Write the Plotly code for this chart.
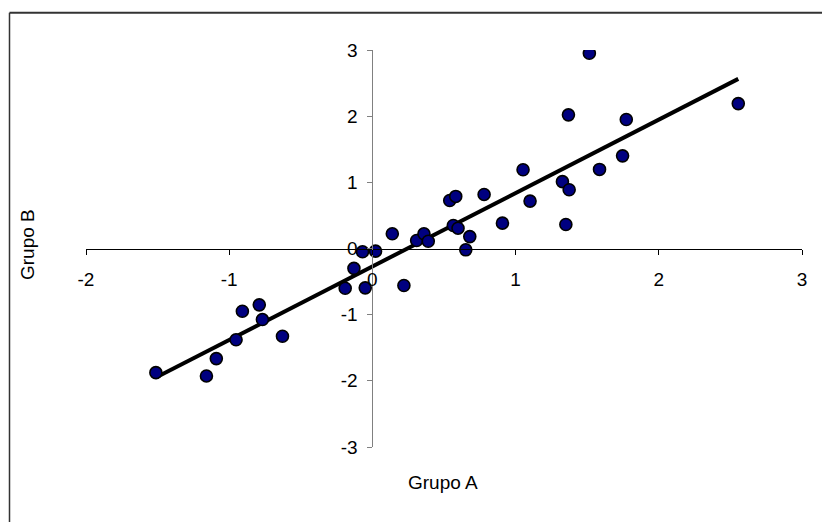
import numpy as np
import plotly.graph_objects as go

# Data
grupo_a = [-1.512, -1.159, -1.09, -0.952, -0.908, -0.79, -0.768, -0.628,
           -0.19, -0.129, -0.05, -0.069, 0.022, 0.139, 0.22, 0.309, 0.36, 0.39,
           0.54, 0.582, 0.565, 0.598, 0.652, 0.68, 0.78, 0.908, 1.052, 1.101,
           1.327, 1.351, 1.374, 1.369, 1.515, 1.586, 1.747, 1.773, 2.555]
grupo_b = [-1.876, -1.926, -1.664, -1.38, -0.948, -0.852, -1.074, -1.327,
           -0.60, -0.30, -0.595, -0.05, -0.04, 0.222, -0.56, 0.121, 0.222, 0.11,
           0.726, 0.787, 0.348, 0.307, -0.02, 0.18, 0.817, 0.383, 1.19, 0.716,
           1.01, 0.363, 0.888, 2.02, 2.95, 1.195, 1.40, 1.95, 2.19]
x_ticks = [-2, -1, 0, 1, 2, 3]
y_ticks = [-3, -2, -1, 0, 1, 2, 3]

OFF = 0  # body margin removed below, figure starts at the window corner
W, H = 822, 522
ML, MR, MT, MB = 86, 20, 50, 75
PW, PH = W - ML - MR, H - MT - MB

def px_x(px):
    return (px - OFF - ML) / PW

def px_y(py):
    return (H - MB - (py - OFF)) / PH

xa = np.array(grupo_a)
ya = np.array(grupo_b)
slope, intercept = np.polyfit(xa, ya, 1)
xl = np.array([xa.min(), xa.max()])
yl = slope * xl + intercept

fig = go.Figure()
fig.add_trace(go.Scatter(x=xl, y=yl, mode="lines",
                         line=dict(color="black", width=4),
                         hoverinfo="skip", showlegend=False))
fig.add_trace(go.Scatter(x=grupo_a, y=grupo_b, mode="markers",
                         marker=dict(size=12, color="#000080",
                                     line=dict(color="black", width=1.6)),
                         showlegend=False))

tick_font = dict(family="Liberation Sans, Arial, sans-serif", size=19, color="black")
title_font = dict(family="Liberation Sans, Arial, sans-serif", size=19, color="black")

fig.update_layout(
    width=W, height=H, autosize=False,
    margin=dict(l=ML, r=MR, t=MT, b=MB, pad=0),
    paper_bgcolor="white", plot_bgcolor="white",
    font=tick_font,
    xaxis=dict(range=[-2, 3], tickvals=x_ticks, ticktext=[str(v) for v in x_ticks],
               showgrid=False, zeroline=False, showline=True, linecolor="black",
               linewidth=1, ticks="outside", ticklen=5, tickcolor="black",
               anchor="free", position=0.5, ticklabelstandoff=9,
               tickfont=tick_font),
    yaxis=dict(range=[-3, 3], tickvals=y_ticks, ticktext=[str(v) for v in y_ticks],
               showgrid=False, zeroline=False, showline=True, linecolor="#808080",
               linewidth=1, ticks="outside", ticklen=5, tickcolor="#808080",
               anchor="free", position=0.4, ticklabelstandoff=6,
               tickfont=tick_font),
    annotations=[
        dict(text="Grupo A", xref="paper", yref="paper", x=px_x(443), y=px_y(482),
             showarrow=False, font=title_font, xanchor="center", yanchor="middle"),
        dict(text="Grupo B", xref="paper", yref="paper", x=px_x(28), y=px_y(245),
             showarrow=False, font=title_font, textangle=-90,
             xanchor="center", yanchor="middle"),
    ],
    shapes=[
        dict(type="line", xref="paper", yref="paper",
             x0=px_x(9.5), x1=px_x(840), y0=px_y(12.7), y1=px_y(12.7),
             line=dict(color="#333333", width=2)),
        dict(type="line", xref="paper", yref="paper",
             x0=px_x(9.5), x1=px_x(9.5), y0=px_y(12.7), y1=px_y(540),
             line=dict(color="#333333", width=1.5)),
    ],
)

fig.write_html("out.html",
               config={"displayModeBar": False},
               post_script="document.body.style.margin='0';"
                           "document.body.style.overflow='hidden';")
